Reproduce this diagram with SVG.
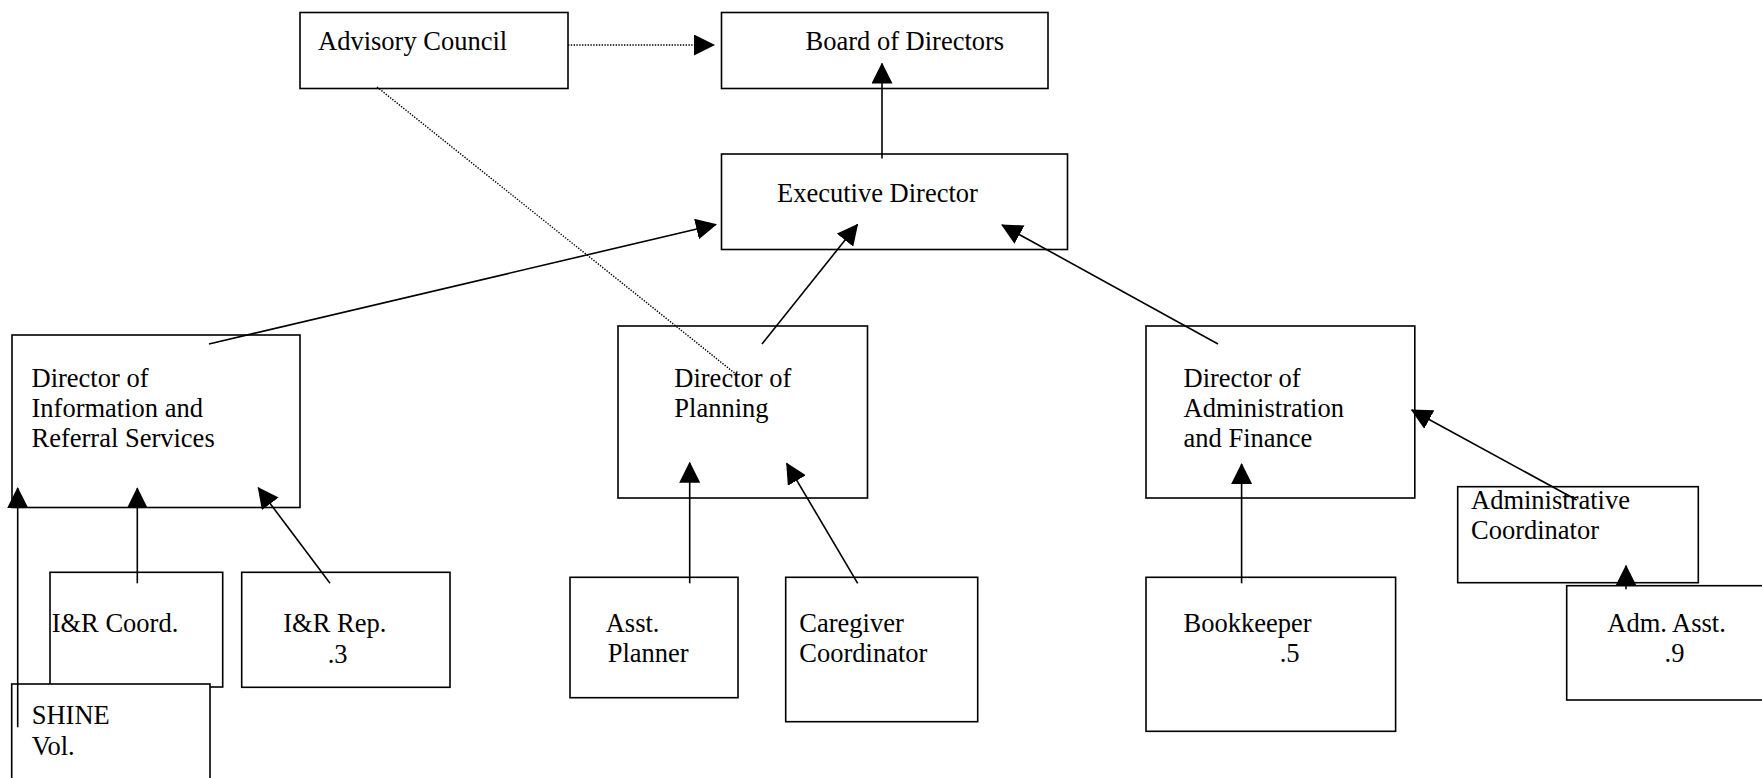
<svg xmlns="http://www.w3.org/2000/svg" width="1762" height="778" viewBox="0 0 1762 778">
<style>
.box{fill:#fff;stroke:#000;stroke-width:1.6}
.t{font-family:"Liberation Serif","Times New Roman",serif;font-size:26.5px;fill:#000}
.c{stroke:#000;stroke-width:1.6;fill:none}
.d{stroke:#000;stroke-width:1.4;fill:none;stroke-dasharray:1.4 1.4}
</style>
<defs>
<marker id="ah" markerUnits="userSpaceOnUse" markerWidth="21" markerHeight="21" refX="20" refY="10.5" orient="auto" viewBox="0 0 21 21">
<path d="M0,0 L21,10.5 L0,21 z" fill="#000"/>
</marker>
</defs>
<rect width="1762" height="778" fill="#fff"/>
<g id="advisory-council"><rect class="box" x="300" y="12.5" width="268" height="76"/><text class="t" x="318" y="50">Advisory Council</text></g>
<g id="board-of-directors"><rect class="box" x="721.5" y="12.5" width="326.5" height="76"/><text class="t" x="805.5" y="50">Board of Directors</text></g>
<g id="executive-director"><rect class="box" x="721.5" y="154" width="346" height="95.5"/><text class="t" x="777" y="202">Executive Director</text></g>
<g id="director-ir"><rect class="box" x="12" y="335" width="288" height="172.5"/><text class="t" x="31.5" y="386.7">Director of</text><text class="t" x="31.5" y="417">Information and</text><text class="t" x="31.5" y="447.3">Referral Services</text></g>
<g id="director-planning"><rect class="box" x="618" y="326" width="249.5" height="172"/><text class="t" x="674.3" y="386.7">Director of</text><text class="t" x="674.3" y="417.3">Planning</text></g>
<g id="director-admin"><rect class="box" x="1146" y="326" width="268.8" height="172"/><text class="t" x="1183.5" y="386.7">Director of</text><text class="t" x="1183.5" y="417.3">Administration</text><text class="t" x="1183.5" y="447.3">and Finance</text></g>
<g id="ir-coord"><rect class="box" x="50" y="572.3" width="172.7" height="114.7"/><text class="t" x="51.7" y="631.7">I&amp;R Coord.</text></g>
<g id="ir-rep"><rect class="box" x="241.7" y="572.3" width="208.3" height="115"/><text class="t" x="283.3" y="631.7">I&amp;R Rep.</text><text class="t" x="327.7" y="662.5">.3</text></g>
<g id="shine-vol"><rect class="box" x="11.7" y="684" width="198.3" height="120"/><text class="t" x="31.7" y="724">SHINE</text><text class="t" x="31.7" y="755">Vol.</text></g>
<g id="asst-planner"><rect class="box" x="570" y="577.3" width="168" height="120.4"/><text class="t" x="605.7" y="631.7">Asst.</text><text class="t" x="607.7" y="662.3">Planner</text></g>
<g id="caregiver-coordinator"><rect class="box" x="785.7" y="577.3" width="192" height="144.4"/><text class="t" x="799.3" y="631.7">Caregiver</text><text class="t" x="799.3" y="662.3">Coordinator</text></g>
<g id="bookkeeper"><rect class="box" x="1146" y="577.3" width="249.6" height="154"/><text class="t" x="1183.5" y="631.7">Bookkeeper</text><text class="t" x="1279.7" y="662.3">.5</text></g>
<g id="administrative-coordinator"><rect class="box" x="1457.7" y="486.7" width="240.6" height="96"/><text class="t" x="1471" y="509.3">Administrative</text><text class="t" x="1471" y="539.3">Coordinator</text></g>
<g id="adm-asst"><rect class="box" x="1566.7" y="585.7" width="220" height="114.3"/><text class="t" x="1607.3" y="631.7">Adm. Asst.</text><text class="t" x="1664.6" y="662.3">.9</text></g>
<g id="connectors">
<line class="d" x1="568" y1="45" x2="714" y2="45" marker-end="url(#ah)"/>
<line class="d" x1="377" y1="87" x2="737" y2="375"/>
<line class="c" x1="882" y1="158.5" x2="882" y2="63.5" marker-end="url(#ah)"/>
<line class="c" x1="209" y1="344" x2="716" y2="224.5" marker-end="url(#ah)"/>
<line class="c" x1="762" y1="344" x2="857.5" y2="224.5" marker-end="url(#ah)"/>
<line class="c" x1="1218" y1="344" x2="1002" y2="225" marker-end="url(#ah)"/>
<line class="c" x1="17.7" y1="727.3" x2="17.7" y2="488" marker-end="url(#ah)"/>
<line class="c" x1="137.3" y1="583.3" x2="137.3" y2="488.3" marker-end="url(#ah)"/>
<line class="c" x1="330" y1="583.3" x2="258.3" y2="487.7" marker-end="url(#ah)"/>
<line class="c" x1="689.7" y1="583.3" x2="689.7" y2="462.7" marker-end="url(#ah)"/>
<line class="c" x1="857.7" y1="583.3" x2="786.7" y2="463.3" marker-end="url(#ah)"/>
<line class="c" x1="1241.6" y1="583.3" x2="1241.6" y2="464" marker-end="url(#ah)"/>
<line class="c" x1="1576.7" y1="500" x2="1411.7" y2="410" marker-end="url(#ah)"/>
<line class="c" x1="1626" y1="589.3" x2="1626" y2="565.7" marker-end="url(#ah)"/>
</g>
</svg>
